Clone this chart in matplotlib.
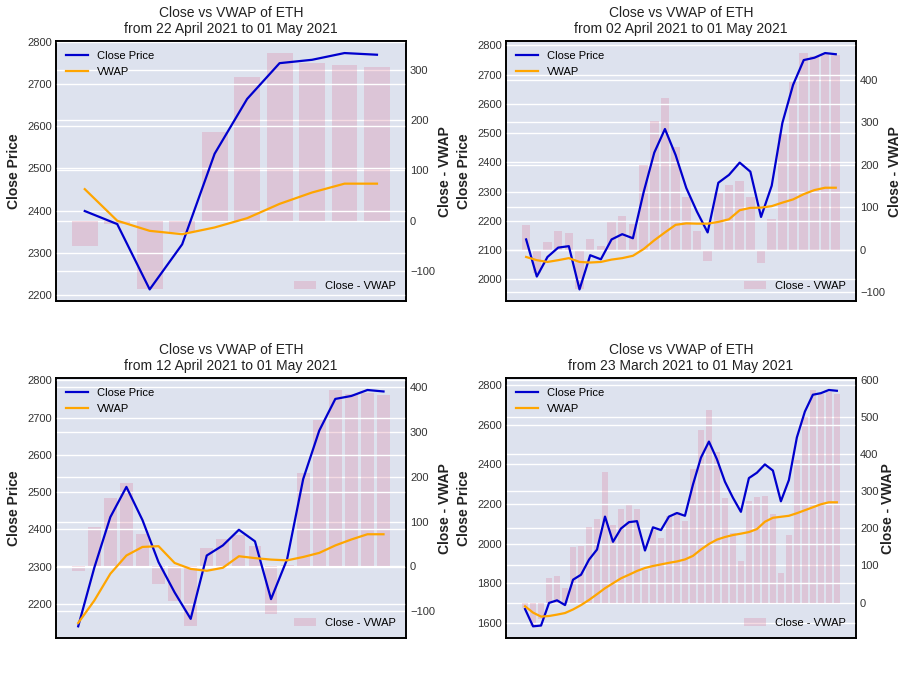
import matplotlib
matplotlib.use("Agg")
import matplotlib.pyplot as plt
import numpy as np
import pandas as pd

plt.rcParams['font.family'] = ['Liberation Sans', 'DejaVu Sans']

# daily close of ETH, 23 March 2021 -> 01 May 2021
dates = pd.date_range("2021-03-23", "2021-05-01", freq="D")
close = [1670, 1583, 1587, 1701, 1714, 1690, 1818, 1843, 1919, 1970,
         2136, 2009, 2076, 2108, 2113, 1965, 2082, 2068, 2136, 2154,
         2140, 2297, 2433, 2514, 2425, 2312, 2231, 2160, 2330, 2357,
         2399, 2368, 2213, 2320, 2535, 2665, 2750, 2758, 2774, 2770]

# VWAP anchored at each start date, and close - VWAP bars
vwap_22apr = [2451, 2376, 2352, 2344, 2360, 2382, 2416, 2443, 2464, 2464]
diff_22apr = [-51, -6, -137, -22, 176, 286, 334, 315, 311, 307]

vwap_02apr = [2076, 2065, 2059, 2065, 2072, 2059, 2057, 2059, 2067, 2072,
              2080, 2103, 2133, 2160, 2186, 2191, 2190, 2190, 2196, 2205,
              2236, 2244, 2245, 2250, 2262, 2273, 2291, 2305, 2313, 2313]
diff_02apr = [58, -55, 17, 43, 40, -94, 24, 8, 67, 80,
              59, 200, 303, 357, 241, 124, 44, -28, 135, 152,
              162, 123, -32, 72, 273, 395, 462, 456, 463, 458]

vwap_12apr = [2149, 2209, 2281, 2330, 2353, 2355, 2310, 2294, 2289, 2297,
              2328, 2323, 2319, 2317, 2326, 2337, 2357, 2373, 2387, 2387]
diff_12apr = [-10, 88, 152, 186, 72, -40, -78, -134, 41, 60,
              71, 45, -106, 3, 209, 328, 394, 386, 388, 383]

vwap_23mar = [1684, 1652, 1632, 1635, 1642, 1650, 1668, 1690, 1716, 1745,
              1775, 1800, 1825, 1843, 1862, 1877, 1887, 1895, 1903, 1910,
              1920, 1938, 1970, 1998, 2020, 2033, 2043, 2050, 2058, 2073,
              2110, 2130, 2135, 2140, 2153, 2168, 2183, 2198, 2208, 2208]
diff_23mar = [-14, -64, -45, 66, 72, 40, 150, 153, 203, 225,
              350, 209, 251, 265, 251, 88, 195, 173, 233, 244,
              220, 359, 463, 518, 405, 282, 188, 111, 272, 284,
              288, 238, 79, 181, 383, 498, 572, 561, 567, 562]

panels = [("22 April 2021", vwap_22apr, diff_22apr),
          ("02 April 2021", vwap_02apr, diff_02apr),
          ("12 April 2021", vwap_12apr, diff_12apr),
          ("23 March 2021", vwap_23mar, diff_23mar)]

bg = '#dde2ee'


def plot_panel(ax, start, vwap, diff):
    n = len(vwap)
    d = dates[-n:]
    c = close[-n:]

    # bars on the twin axis, kept underneath the price lines
    ax2 = ax.twinx()
    ax.set_zorder(ax2.get_zorder() + 1)
    ax.patch.set_visible(False)
    ax2.patch.set_visible(True)
    ax2.set_facecolor(bg)

    bars = ax2.bar(d, diff, width=0.8, color='palevioletred', alpha=0.25, label='Close - VWAP')
    ax2.grid(axis='y', color='white', linewidth=1)
    ax2.set_axisbelow(True)

    ax.plot(d, c, color='mediumblue', linewidth=1.6, label='Close Price')
    ax.plot(d, vwap, color='orange', linewidth=1.6, label='VWAP')
    ax.grid(axis='y', color='white', linewidth=1)

    ax.set_title(f"Close vs VWAP of ETH\nfrom {start} to 01 May 2021", fontsize=10, color='#222222')
    ax.set_ylabel("Close Price", fontsize=10, fontweight='bold', color='#222222')
    ax2.set_ylabel("Close - VWAP", fontsize=10, fontweight='bold', color='#222222', labelpad=2)

    for a in (ax, ax2):
        a.set_xticks([])
        a.tick_params(axis='y', length=0, labelsize=8, labelcolor='#333333', pad=3)
        for s in a.spines.values():
            s.set_color('black')
            s.set_linewidth(1.2)

    # both legends live on the top axis so nothing is drawn over them
    leg = ax.legend(loc='upper left', frameon=False, fontsize=8)
    ax.add_artist(leg)
    ax.legend([bars], ['Close - VWAP'], loc='lower right', frameon=False, fontsize=8)


fig, axes = plt.subplots(2, 2, figsize=(9.01, 6.76), dpi=100)
fig.subplots_adjust(left=0.062, right=0.95, top=0.939, bottom=0.056, hspace=0.296, wspace=0.286)

for ax, (start, vwap, diff) in zip(axes.flat, panels):
    plot_panel(ax, start, vwap, diff)

fig.savefig("out.png", dpi=100, facecolor='white')
